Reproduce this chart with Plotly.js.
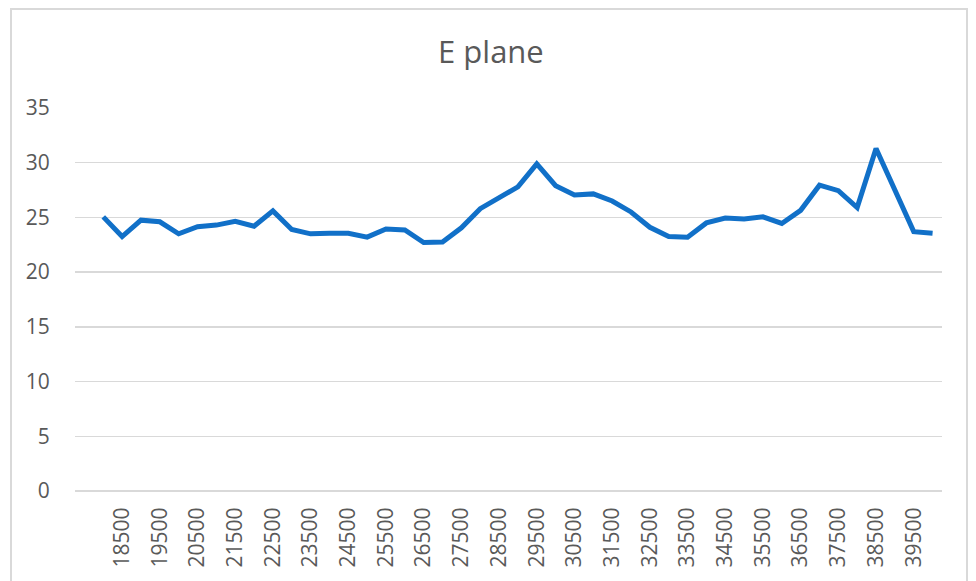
<!DOCTYPE html>
<html>
<head>
<meta charset="utf-8">
<script src="https://cdn.plot.ly/plotly-3.0.1.min.js"></script>
<style>
  html, body { margin: 0; padding: 0; background: #ffffff; }
  #wrap { position: relative; width: 976px; height: 581px; overflow: hidden; }
  #chart { position: absolute; left: 0; top: 0; width: 976px; height: 581px; }
  #frame { position: absolute; left: 10px; top: 8px; width: 958px; height: 600px;
           border: 2px solid #d9d9d9; pointer-events: none; box-sizing: border-box; }
</style>
</head>
<body>
<div id="wrap">
  <div id="chart"></div>
  <div id="frame"></div>
</div>
<script>
// Frequency categories (x)
const frequencies = [
  18000, 18500, 19000, 19500, 20000, 20500, 21000, 21500, 22000, 22500,
  23000, 23500, 24000, 24500, 25000, 25500, 26000, 26500, 27000, 27500,
  28000, 28500, 29000, 29500, 30000, 30500, 31000, 31500, 32000, 32500,
  33000, 33500, 34000, 34500, 35000, 35500, 36000, 36500, 37000, 37500,
  38000, 38500, 39000, 39500, 40000
];
// E plane values (y)
const ePlane = [
  25.05, 23.25, 24.75, 24.6, 23.5, 24.15, 24.3, 24.65, 24.2, 25.6,
  23.9, 23.5, 23.55, 23.55, 23.2, 23.95, 23.85, 22.7, 22.75, 24.05,
  25.8, 26.85, 27.8, 29.9, 27.9, 27.05, 27.15, 26.5, 25.5, 24.1,
  23.25, 23.2, 24.5, 24.95, 24.85, 25.05, 24.45, 25.65, 27.95, 27.45,
  25.9, 31.3, 27.6, 23.7, 23.55
];
// Shown x tick labels
const xTickVals = [
  18500, 19500, 20500, 21500, 22500, 23500, 24500, 25500, 26500, 27500, 28500,
  29500, 30500, 31500, 32500, 33500, 34500, 35500, 36500, 37500, 38500, 39500
];
const xTickText = xTickVals.map(String);
const yTickVals = [0, 5, 10, 15, 20, 25, 30, 35];

const trace = {
  x: frequencies,
  y: ePlane,
  type: 'scatter',
  mode: 'lines',
  line: { color: '#1170C8', width: 5, shape: 'linear' },
  hoverinfo: 'x+y'
};

const font = "'Open Sans', 'Noto Sans', sans-serif";

const layout = {
  width: 976,
  height: 581,
  margin: { l: 75, r: 34, t: 108, b: 90, pad: 0 },
  paper_bgcolor: '#ffffff',
  plot_bgcolor: '#ffffff',
  showlegend: false,
  font: { family: font, color: '#595959', size: 21 },
  title: {
    text: 'E plane',
    font: { family: font, size: 31, color: '#595959' },
    x: 0.503, xref: 'container', xanchor: 'center',
    y: 0.9105, yref: 'container', yanchor: 'middle'
  },
  xaxis: {
    type: 'linear',
    range: [17250, 40250],
    tickmode: 'array',
    tickvals: xTickVals,
    ticktext: xTickText,
    tickangle: -90,
    showgrid: false,
    zeroline: false,
    showline: false,
    ticks: 'outside',
    ticklen: 7,
    tickcolor: 'rgba(0,0,0,0)',
    tickfont: { family: font, size: 21, color: '#595959' }
  },
  yaxis: {
    range: [0, 35],
    tickmode: 'array',
    tickvals: yTickVals,
    showgrid: true,
    gridcolor: '#d9d9d9',
    gridwidth: 1.5,
    zeroline: true,
    zerolinecolor: '#d9d9d9',
    zerolinewidth: 1.5,
    showline: false,
    ticks: 'outside',
    ticklen: 20,
    tickcolor: 'rgba(0,0,0,0)',
    tickfont: { family: font, size: 21, color: '#595959' }
  }
};

Plotly.newPlot('chart', [trace], layout, { displayModeBar: false, staticPlot: true });
</script>
</body>
</html>
